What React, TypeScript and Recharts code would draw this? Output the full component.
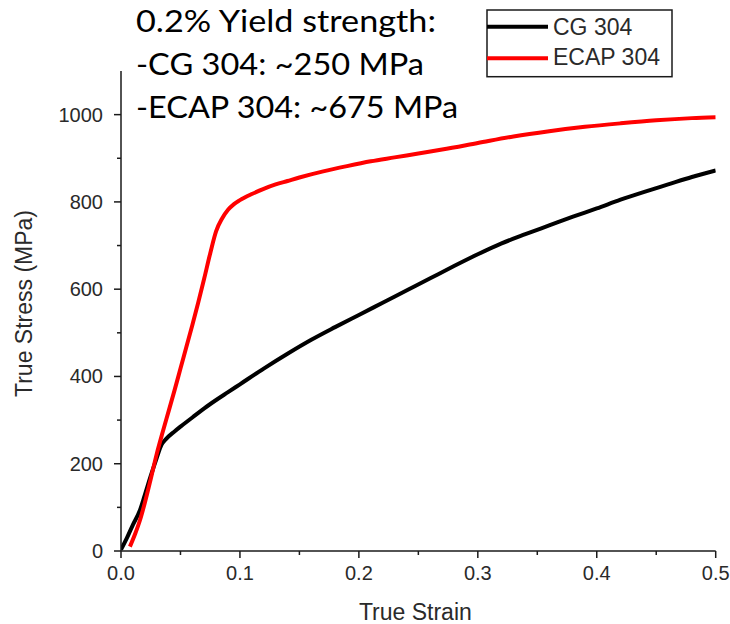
import React from 'react';
import { LineChart, Line, XAxis, YAxis, Legend } from 'recharts';

const seriesNames = ['CG 304', 'ECAP 304'];
const seriesColors = ['#000000', '#ff0000'];

const cgStrain = [0, 0.005, 0.01, 0.016, 0.02, 0.025, 0.03, 0.034, 0.038, 0.045, 0.05, 0.06, 0.07, 0.08, 0.09, 0.1, 0.12, 0.14, 0.16, 0.18, 0.2, 0.22, 0.24, 0.26, 0.28, 0.3, 0.32, 0.34, 0.36, 0.38, 0.4, 0.42, 0.44, 0.46, 0.48, 0.5];
const cgStress = [3, 30, 60, 94, 128, 172, 213, 243, 257, 274, 285, 306, 327, 346, 364, 382, 418, 452, 484, 513, 541, 569, 597, 625, 653, 680, 705, 726, 746, 766, 785, 805, 823, 840, 857, 872];

const ecapStrain = [0.0075, 0.012, 0.016, 0.02, 0.025, 0.03, 0.035, 0.04, 0.045, 0.05, 0.055, 0.06, 0.065, 0.07, 0.075, 0.08, 0.085, 0.09, 0.095, 0.1, 0.11, 0.12, 0.13, 0.14, 0.15, 0.17, 0.19, 0.21, 0.23, 0.25, 0.27, 0.3, 0.33, 0.36, 0.39, 0.42, 0.45, 0.48, 0.5];
const ecapStress = [10, 40, 71, 110, 165, 222, 272, 320, 368, 418, 468, 518, 570, 625, 682, 733, 762, 782, 795, 804, 818, 830, 840, 848, 856, 870, 882, 893, 902, 911, 920, 935, 950, 962, 972, 980, 987, 992, 994];

const xTicks = [0, 0.05, 0.1, 0.15, 0.2, 0.25, 0.3, 0.35, 0.4, 0.45, 0.5];
const yTicks = [0, 100, 200, 300, 400, 500, 600, 700, 800, 900, 1000];
const xDomain = [0, 0.5];
const yDomain = [0, 1100];

const annotationLines = ['0.2% Yield strength:', '-CG 304: ~250 MPa', '-ECAP 304: ~675 MPa'];
const annotationWidths = [300, 288, 322];
const xTitle = 'True Strain';
const yTitle = 'True Stress (MPa)';

const cgData = cgStrain.map((s, i) => ({ strain: s, stress: cgStress[i] }));
const ecapData = ecapStrain.map((s, i) => ({ strain: s, stress: ecapStress[i] }));

const AXIS_FONT = '"Liberation Sans", Arial, sans-serif';
const TEXT_FILL = '#2a2a2a';
const AXIS_STROKE = '#1a1a1a';

const XTick = (props: any) => {
  const { x, y, payload } = props;
  const v = payload.value as number;
  const major = Math.round(v * 100) % 10 === 0;
  return (
    <g>
      <line x1={x} x2={x} y1={y} y2={y + (major ? 7 : 4)} stroke={AXIS_STROKE} strokeWidth={1.5} />
      {major && (
        <text x={x} y={y + 29} textAnchor="middle" fontSize={20} fill={TEXT_FILL} fontFamily={AXIS_FONT}>
          {v.toFixed(1)}
        </text>
      )}
    </g>
  );
};

const YTick = (props: any) => {
  const { x, y, payload } = props;
  const v = payload.value as number;
  const major = v % 200 === 0;
  return (
    <g>
      <line x1={x} x2={x - (major ? 7 : 4)} y1={y} y2={y} stroke={AXIS_STROKE} strokeWidth={1.5} />
      {major && (
        <text x={x - 18} y={y + 7} textAnchor="end" fontSize={20} fill={TEXT_FILL} fontFamily={AXIS_FONT}>
          {String(v)}
        </text>
      )}
    </g>
  );
};

const XTitle = (props: any) => {
  const vb = props.viewBox || {};
  return (
    <text x={vb.x + vb.width / 2 - 3} y={vb.y + 69} textAnchor="middle" fontSize={23} fill={TEXT_FILL} fontFamily={AXIS_FONT}>
      {xTitle}
    </text>
  );
};

const YTitle = (props: any) => {
  const vb = props.viewBox || {};
  const cx = 32;
  const cy = vb.y + vb.height / 2 - 7.5;
  return (
    <text x={cx} y={cy} transform={`rotate(-90, ${cx}, ${cy})`} textAnchor="middle" fontSize={23} fill={TEXT_FILL} fontFamily={AXIS_FONT}>
      {yTitle}
    </text>
  );
};

const LegendBox = (props: any) => {
  const payload = props.payload || [];
  return (
    <svg width={188} height={70} style={{ display: 'block' }}>
      <rect x={1} y={1} width={185} height={66.7} fill="#ffffff" stroke={AXIS_STROKE} strokeWidth={1.5} />
      {payload.map((p: any, i: number) => (
        <g key={i}>
          <line x1={1} x2={62} y1={17.7 + i * 31.6} y2={17.7 + i * 31.6} stroke={p.color} strokeWidth={4} />
          <text x={67} y={26 + i * 30} fontSize={23} fill={TEXT_FILL} fontFamily={AXIS_FONT}>
            {p.value}
          </text>
        </g>
      ))}
    </svg>
  );
};

export default function App() {
  return (
    <div style={{ position: 'absolute', left: 0, top: 0, width: 730, height: 624, background: '#fff' }}>
      <LineChart width={730} height={624} margin={{ top: 71, right: 14.3, left: 0, bottom: 0 }}>
        <XAxis
          dataKey="strain"
          type="number"
          domain={xDomain}
          ticks={xTicks}
          interval={0}
          tickSize={0}
          tickMargin={0}
          tick={<XTick />}
          tickLine={false}
          axisLine={{ stroke: AXIS_STROKE, strokeWidth: 1.5 }}
          height={73}
          allowDataOverflow
          label={<XTitle />}
        />
        <YAxis
          dataKey="stress"
          type="number"
          domain={yDomain}
          ticks={yTicks}
          interval={0}
          tickSize={0}
          tickMargin={0}
          tick={<YTick />}
          tickLine={false}
          axisLine={{ stroke: AXIS_STROKE, strokeWidth: 1.5 }}
          width={121}
          allowDataOverflow
          label={<YTitle />}
        />
        <Legend
          layout="vertical"
          align="center"
          verticalAlign="middle"
          content={<LegendBox />}
          wrapperStyle={{ left: 486, top: 9, width: 188, height: 70 }}
        />
        <Line
          data={cgData}
          dataKey="stress"
          name={seriesNames[0]}
          stroke={seriesColors[0]}
          strokeWidth={4}
          dot={false}
          type="monotone"
          isAnimationActive={false}
        />
        <Line
          data={ecapData}
          dataKey="stress"
          name={seriesNames[1]}
          stroke={seriesColors[1]}
          strokeWidth={4}
          dot={false}
          type="monotone"
          isAnimationActive={false}
        />
      </LineChart>
      <svg width={730} height={130} style={{ position: 'absolute', left: 0, top: 0, pointerEvents: 'none' }}>
        {annotationLines.map((t, i) => (
          <text
            key={i}
            x={136}
            y={31.7 + i * 43.2}
            fontSize={30}
            fill="#000"
            fontFamily="Lato, 'Open Sans', sans-serif"
            textLength={annotationWidths[i]}
            lengthAdjust="spacingAndGlyphs"
          >
            {t}
          </text>
        ))}
      </svg>
    </div>
  );
}
